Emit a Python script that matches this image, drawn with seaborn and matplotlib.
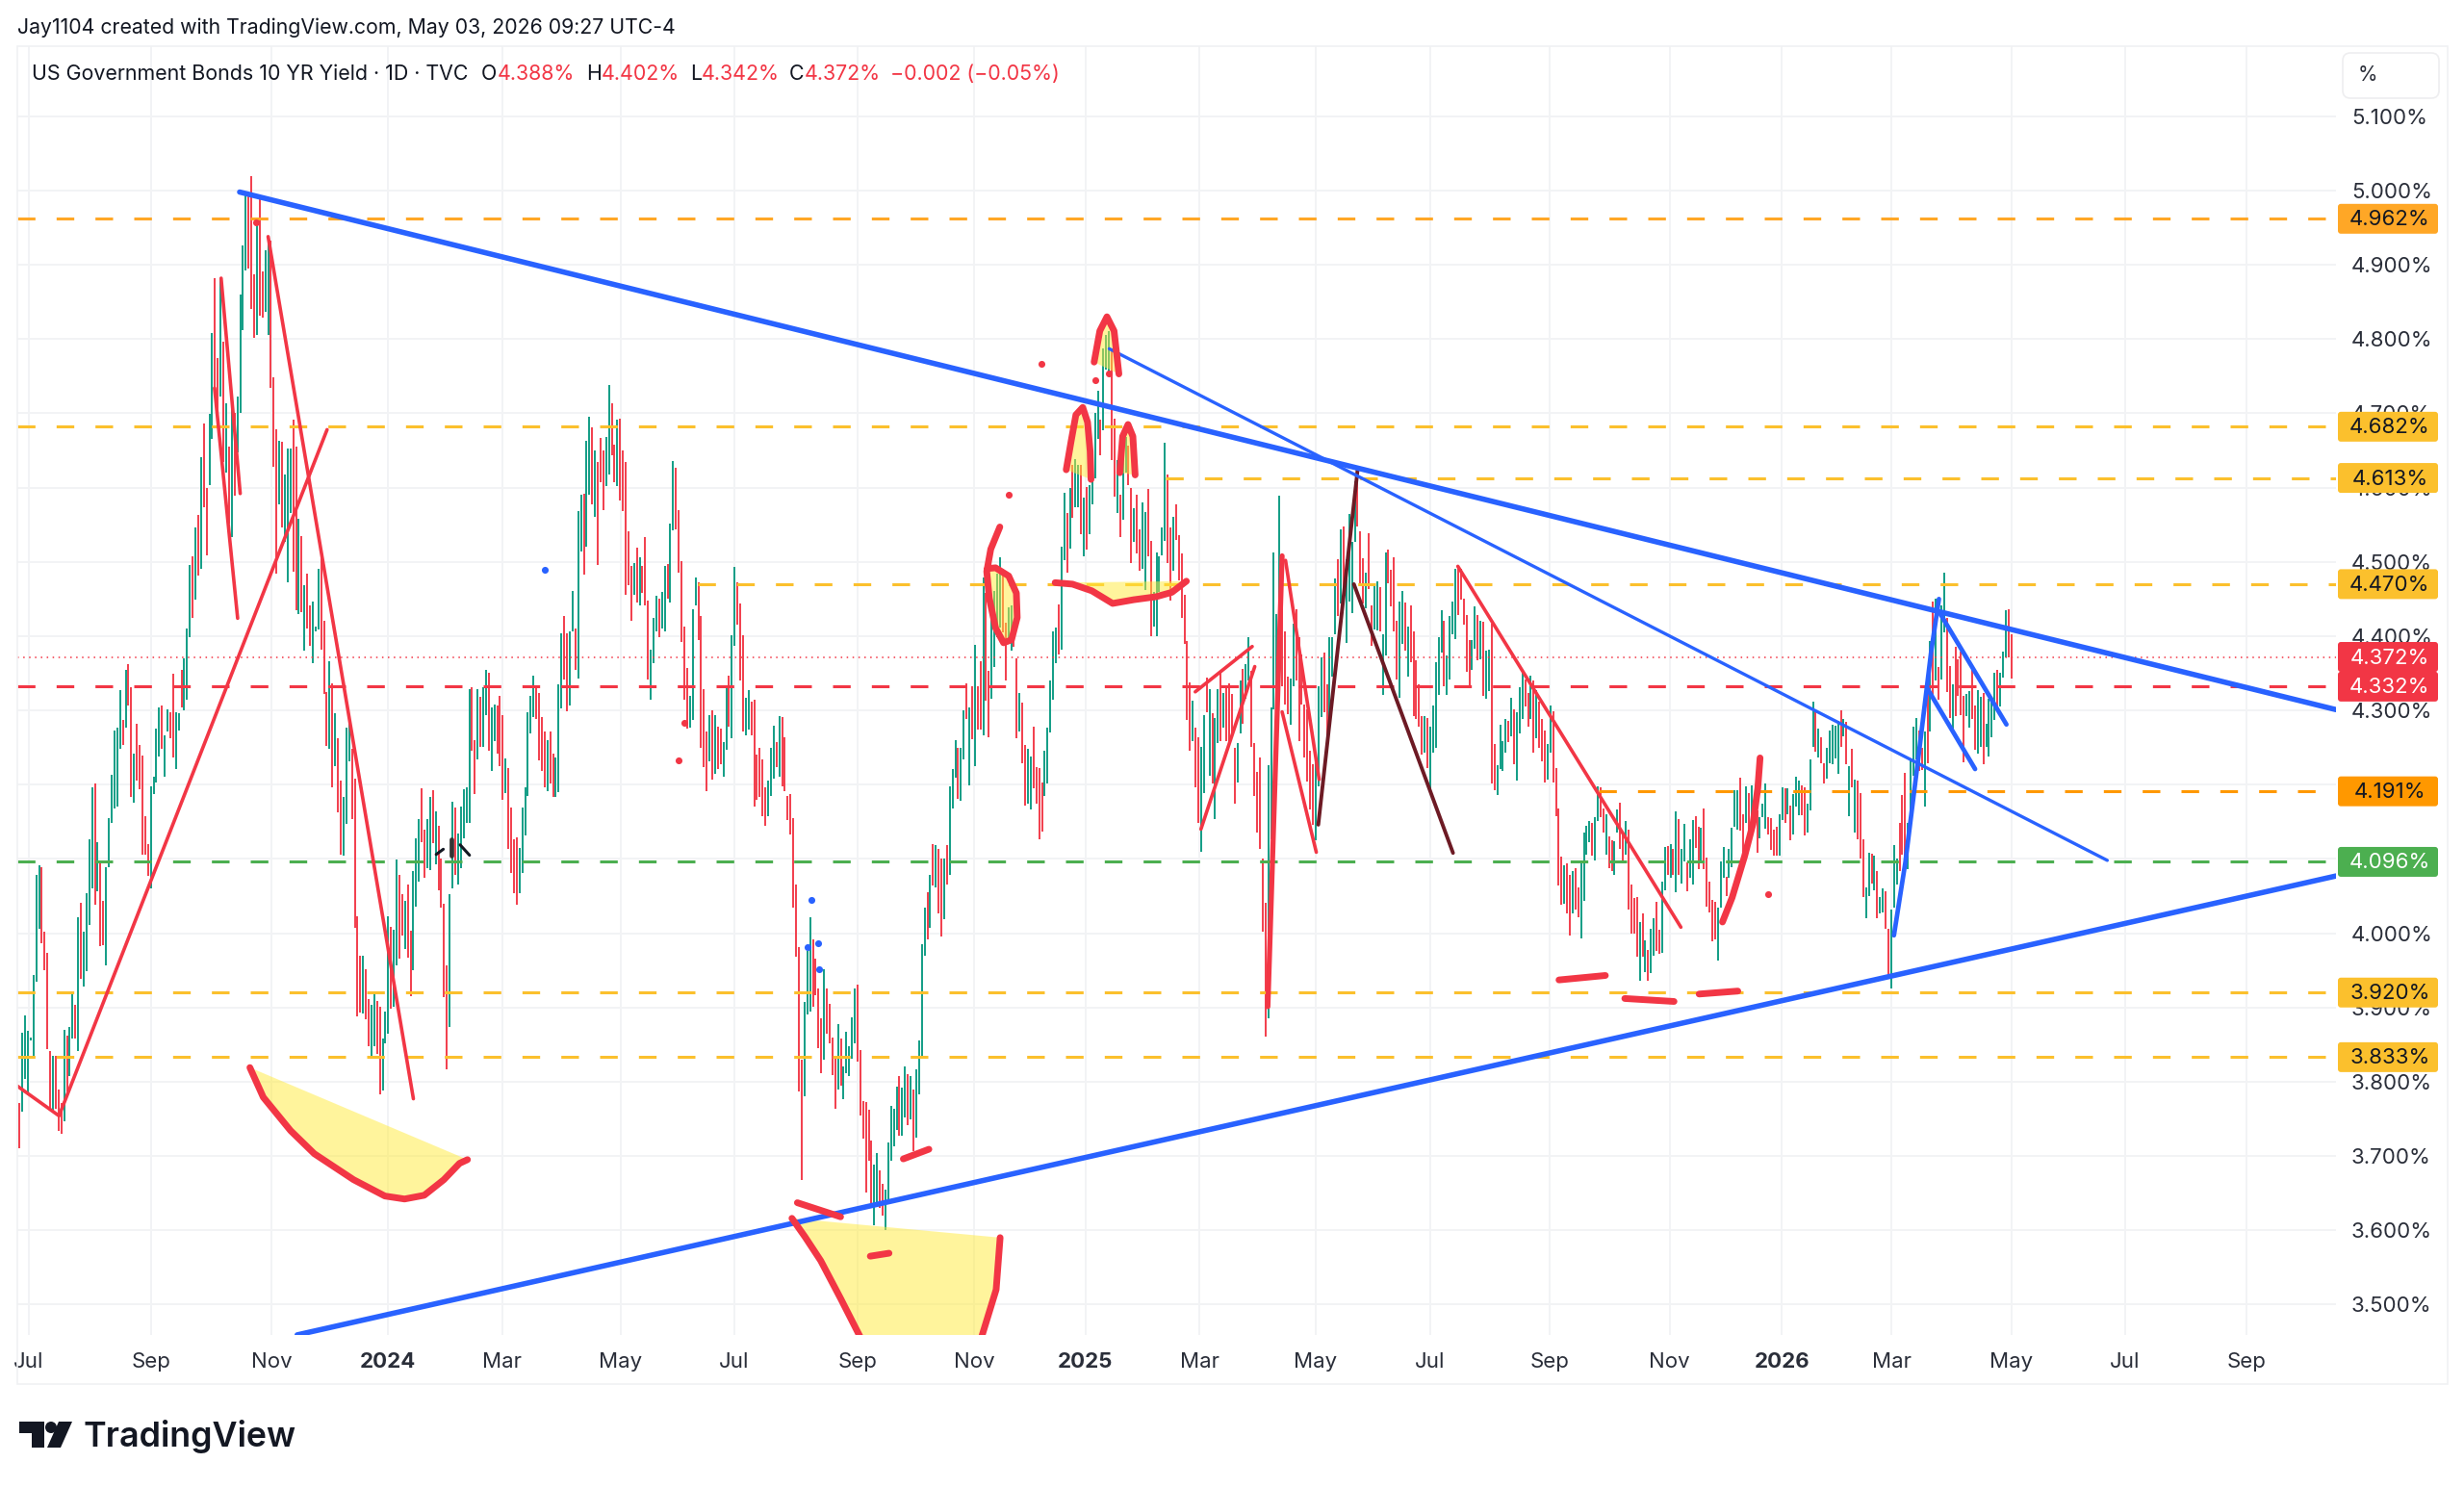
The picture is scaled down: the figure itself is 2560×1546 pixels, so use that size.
import numpy as np
import pandas as pd
import matplotlib
matplotlib.use("Agg")
import matplotlib.pyplot as plt
import seaborn as sns
from matplotlib.patches import FancyBboxPatch, Polygon, Circle, Rectangle
from matplotlib.transforms import IdentityTransform

# daily bar ranges (yield, %), left to right
high_a = [3.771,3.866,3.889,3.868,3.859,3.944,4.079,4.092,4.089,4.002,
          3.973,3.841,3.835,3.835,3.790,3.771,3.870,3.862,3.874,3.920,
          3.903,4.021,4.041,4.002,4.054,4.126,4.197,4.202,4.122,4.097,
          4.044,4.089,4.155,4.213,4.273,4.277,4.327,4.287,4.354,4.362,
          4.331,4.242,4.282,4.254,4.239,4.157,4.120,4.198,4.211,4.275,
          4.304,4.306,4.267,4.302,4.297,4.349,4.297,4.296,4.355,4.370,
          4.410,4.496,4.508,4.546,4.563,4.641,4.686,4.600,4.699,4.808,
          4.882,4.775,4.882,4.796,4.713,4.655,4.725,4.701,4.723,4.860,
          4.926,4.994,4.998,5.020,4.887,4.963,4.988,4.891,4.920,4.936,
          4.932,4.748,4.678,4.663,4.662,4.618,4.653,4.653,4.691,4.655,
          4.558,4.535,4.468,4.484,4.442,4.446,4.413,4.490,4.515,4.420,
          4.325,4.366,4.337,4.296,4.263,4.205,4.184,4.277,4.292,4.248]
low_a = [3.710,3.759,3.804,3.782,3.856,3.831,3.934,4.006,3.986,3.950,
         3.844,3.761,3.760,3.763,3.734,3.730,3.746,3.787,3.808,3.858,
         3.858,3.841,3.939,3.928,3.949,4.011,4.060,4.038,4.056,3.983,
         3.984,3.957,4.089,4.149,4.168,4.170,4.248,4.254,4.277,4.306,
         4.184,4.176,4.205,4.194,4.106,4.106,4.077,4.060,4.187,4.203,
         4.238,4.248,4.211,4.271,4.263,4.236,4.221,4.273,4.304,4.300,
         4.314,4.399,4.424,4.449,4.482,4.490,4.574,4.509,4.603,4.666,
         4.734,4.680,4.723,4.635,4.620,4.552,4.534,4.589,4.647,4.701,
         4.812,4.893,4.895,4.840,4.802,4.806,4.831,4.829,4.837,4.806,
         4.734,4.628,4.484,4.577,4.546,4.527,4.473,4.566,4.487,4.435,
         4.430,4.432,4.381,4.410,4.387,4.364,4.407,4.409,4.382,4.322,
         4.252,4.248,4.197,4.225,4.163,4.106,4.104,4.147,4.231,4.154]
dir_a = "rgggggggrr rrgrrrgrgg rgrggggrgr rggggggrgr rgrrrrrggg grggrrggrg ggrgrgrrgg rrgrgrgrgg ggrrrgrrgg rrrgrgggrr grgrrgggrr rgrgrrgggr"

high_b = [4.208,4.023,3.970,3.969,3.951,3.911,3.904,3.919,3.909,3.901,
          3.858,3.894,4.023,4.009,4.005,4.099,4.078,4.052,4.043,4.066,
          4.003,4.083,4.128,4.154,4.195,4.139,4.154,4.184,4.192,4.164,
          4.144,4.101,4.040,3.957,4.053,4.177,4.169,4.134,4.170,4.194,
          4.197,4.328,4.331,4.260,4.328,4.318,4.331,4.354,4.351,4.304,
          4.308,4.306,4.319,4.294,4.235,4.222,4.169,4.127,4.129,4.115,
          4.169,4.197,4.298,4.320,4.347,4.334,4.324,4.291,4.271,4.260,
          4.271,4.242,4.237,4.335,4.404,4.427,4.404,4.406,4.461,4.410,
          4.568,4.591,4.592,4.663,4.695,4.681,4.650,4.635,4.667,4.650,
          4.668,4.738,4.714,4.658,4.691,4.693,4.650,4.634,4.541,4.495,
          4.498,4.519,4.506,4.495,4.533,4.448,4.382,4.425,4.454,4.450,
          4.460,4.495,4.497,4.552,4.636,4.627,4.570,4.501,4.413,4.357,
          4.320]
low_b = [4.007,3.888,3.893,3.892,3.884,3.848,3.831,3.848,3.838,3.783,
         3.788,3.851,3.865,3.898,3.901,3.956,3.966,3.997,3.979,3.967,
         3.915,3.950,4.036,4.070,4.122,4.075,4.088,4.085,4.121,4.093,
         4.058,4.034,3.914,3.817,3.874,4.060,4.079,4.066,4.088,4.128,
         4.148,4.149,4.246,4.187,4.234,4.251,4.251,4.294,4.246,4.218,
         4.258,4.242,4.225,4.179,4.189,4.113,4.081,4.054,4.038,4.054,
         4.081,4.131,4.185,4.269,4.291,4.289,4.233,4.218,4.197,4.191,
         4.202,4.184,4.183,4.190,4.303,4.342,4.299,4.306,4.407,4.354,
         4.343,4.514,4.483,4.521,4.591,4.578,4.561,4.496,4.607,4.570,
         4.602,4.618,4.643,4.607,4.602,4.582,4.569,4.455,4.468,4.420,
         4.456,4.445,4.442,4.458,4.441,4.341,4.314,4.364,4.406,4.398,
         4.410,4.407,4.450,4.445,4.542,4.544,4.486,4.392,4.314,4.275,
         4.277]
dir_b = "rrrgrrggrr gggrggrrgr rgggrrggrg rrrrggrggg ggrrgrggrg grrrgrrrrg gggggrrrrg rrgggrrggr ggrggrgrrr ggrrgrrrrr grgrrrgggr ggrggrrrrr g"

high_c = [4.436,4.479,4.472,4.427,4.329,4.271,4.293,4.300,4.294,4.278,
          4.275,4.257,4.332,4.347,4.401,4.493,4.472,4.444,4.401,4.317,
          4.327,4.312,4.314,4.241,4.249,4.234,4.196,4.206,4.249,4.279,
          4.257,4.292,4.291,4.264,4.185,4.187,4.155,4.066,3.981,3.829,
          3.908,3.976,4.021,3.991,3.966,3.925,3.885,3.952,3.925,3.905,
          3.860,3.832,3.877,3.858,3.821,3.867,3.848,3.887,3.926,3.931,
          3.842,3.774,3.772,3.762,3.721,3.688,3.704,3.680,3.663,3.654,
          3.718,3.767,3.764,3.793,3.807,3.792,3.820,3.810,3.807,3.789,
          3.817,3.855,3.985,4.034,4.055,4.078,4.120,4.118,4.113,4.100,
          4.100,4.118,4.198,4.221,4.260,4.249,4.249,4.300,4.337,4.304,
          4.332,4.388,4.333,4.366,4.479,4.458,4.353,4.428,4.461,4.484,
          4.506,4.491,4.418,4.439,4.441,4.403,4.370,4.324,4.310,4.254]
low_c = [4.287,4.441,4.395,4.250,4.224,4.191,4.231,4.207,4.215,4.221,
         4.227,4.211,4.247,4.278,4.262,4.387,4.416,4.340,4.272,4.266,
         4.274,4.266,4.170,4.180,4.183,4.158,4.145,4.158,4.185,4.208,
         4.223,4.211,4.198,4.191,4.152,4.133,4.034,3.968,3.787,3.668,
         3.780,3.890,3.895,3.901,3.916,3.845,3.812,3.829,3.864,3.852,
         3.809,3.764,3.789,3.795,3.776,3.811,3.807,3.831,3.852,3.827,
         3.754,3.723,3.651,3.694,3.636,3.607,3.636,3.630,3.620,3.600,
         3.636,3.693,3.713,3.735,3.727,3.727,3.752,3.742,3.749,3.706,
         3.725,3.783,3.835,3.969,3.991,4.007,4.064,4.062,4.027,3.995,
         4.019,4.066,4.078,4.168,4.209,4.181,4.178,4.234,4.289,4.199,
         4.261,4.225,4.274,4.274,4.266,4.313,4.264,4.315,4.358,4.398,
         4.411,4.405,4.340,4.389,4.380,4.385,4.262,4.272,4.229,4.172]
dir_c = "ggrrrrgrgr rggrggrrrg grrrrrrggg rgrrrrrrrr gggrrrrgrr rrgrgggggr rrrrrggrrg ggggrggrgr ggggrgrgrr grgggrggrg rgrrgrrggg grrggrrgrr"

high_d = [4.248,4.238,4.278,4.224,4.222,4.203,4.246,4.277,4.340,4.406,
          4.411,4.443,4.520,4.593,4.566,4.600,4.630,4.638,4.630,4.630,
          4.587,4.601,4.604,4.643,4.700,4.730,4.691,4.788,4.806,4.811,
          4.788,4.693,4.637,4.591,4.666,4.668,4.656,4.600,4.572,4.591,
          4.544,4.580,4.567,4.598,4.528,4.459,4.512,4.508,4.546,4.660,
          4.618,4.546,4.560,4.577,4.536,4.511,4.456,4.393,4.338,4.313,
          4.277,4.264,4.251,4.293,4.344,4.329,4.296,4.290,4.329,4.351,
          4.324,4.330,4.337,4.322,4.249,4.256,4.340,4.356,4.362,4.399,
          4.353,4.256,4.217,4.236,4.100,4.041,4.226,4.304,4.513,4.430,
          4.589,4.511,4.406,4.346,4.343,4.417,4.436,4.398,4.375,4.308,
          4.301,4.246,4.227,4.240,4.333,4.372,4.378,4.335,4.399,4.398,
          4.478,4.504,4.544,4.548,4.503,4.564,4.527,4.609,4.627]
low_d = [4.175,4.166,4.195,4.175,4.127,4.137,4.185,4.201,4.270,4.314,
         4.364,4.375,4.382,4.502,4.486,4.518,4.559,4.574,4.574,4.537,
         4.508,4.517,4.537,4.577,4.612,4.666,4.643,4.677,4.759,4.753,
         4.637,4.588,4.566,4.533,4.557,4.620,4.604,4.499,4.527,4.511,
         4.488,4.491,4.462,4.508,4.400,4.413,4.400,4.459,4.509,4.528,
         4.498,4.448,4.488,4.530,4.475,4.424,4.389,4.287,4.245,4.259,
         4.197,4.149,4.109,4.188,4.298,4.212,4.201,4.153,4.256,4.259,
         4.277,4.259,4.259,4.266,4.175,4.203,4.269,4.282,4.315,4.340,
         4.251,4.185,4.135,4.113,4.002,3.861,3.885,4.127,4.301,4.327,
         4.369,4.333,4.308,4.295,4.280,4.333,4.340,4.259,4.308,4.237,
         4.204,4.166,4.146,4.125,4.198,4.291,4.298,4.266,4.269,4.346,
         4.402,4.427,4.444,4.456,4.391,4.447,4.431,4.527,4.547]
dir_d = "ggrrrrgggg grggrgrggr grggggrggg rrgrggrrgr rggrrggggg rrgrrrrrrg rrggrgrggr grrrrggrgg rrrrrrgggg grrrggrrrr rrrgggrrgg grgrggggr"

high_e = [4.541,4.505,4.486,4.538,4.441,4.469,4.474,4.466,4.402,4.513,
          4.517,4.489,4.506,4.420,4.447,4.461,4.445,4.413,4.441,4.406,
          4.368,4.335,4.292,4.292,4.290,4.278,4.307,4.365,4.398,4.435,
          4.420,4.374,4.427,4.446,4.491,4.494,4.491,4.450,4.428,4.395,
          4.395,4.440,4.428,4.420,4.419,4.381,4.382,4.417,4.255,4.226,
          4.280,4.258,4.289,4.286,4.317,4.301,4.297,4.331,4.352,4.342,
          4.323,4.347,4.340,4.327,4.312,4.289,4.273,4.255,4.306,4.299,
          4.222,4.168,4.103,4.092,4.094,4.079,4.083,4.087,4.062,4.094,
          4.136,4.144,4.151,4.149,4.156,4.198,4.196,4.168,4.160,4.130,
          4.125,4.124,4.167,4.176,4.134,4.151,4.139,4.066,4.047,4.049,
          4.015,4.026,3.990,3.977,4.006,4.020]
low_e = [4.471,4.444,4.438,4.464,4.387,4.409,4.408,4.406,4.321,4.374,
         4.471,4.440,4.407,4.342,4.317,4.390,4.381,4.345,4.365,4.292,
         4.288,4.278,4.240,4.243,4.222,4.193,4.243,4.250,4.321,4.378,
         4.332,4.321,4.341,4.402,4.396,4.429,4.449,4.416,4.352,4.332,
         4.354,4.383,4.368,4.369,4.320,4.316,4.326,4.202,4.193,4.186,
         4.221,4.219,4.243,4.257,4.265,4.227,4.205,4.269,4.289,4.305,
         4.278,4.289,4.243,4.263,4.250,4.232,4.203,4.207,4.243,4.203,
         4.157,4.064,4.038,4.039,4.027,3.997,4.027,4.032,4.022,3.993,
         4.043,4.106,4.122,4.104,4.098,4.151,4.156,4.136,4.106,4.088,
         4.083,4.079,4.135,4.114,4.098,4.106,4.032,3.999,3.999,3.968,
         3.936,3.968,3.948,3.936,3.946,3.970]
dir_e = "rrgrrggrgg rrrrggrgrr rrrgrggggg rggggrrrrr ggrgrggrrg gggrgrgggr rgrgrrrggr rrrgrrgrrg gggrggrrgr rggrrgrrrr grgrgg"

high_f = [4.042,4.004,4.069,4.116,4.117,4.120,4.113,4.164,4.154,4.113,
          4.147,4.095,4.126,4.152,4.158,4.143,4.142,4.168,4.102,4.069,
          4.045,4.042,4.035,4.096,4.116,4.076,4.113,4.142,4.193,4.193,
          4.209,4.160,4.198,4.188,4.199,4.182,4.165,4.156,4.175,4.202,
          4.156,4.155,4.139,4.143,4.160,4.197,4.195,4.195,4.172,4.187,
          4.211,4.206,4.199,4.196,4.175,4.234,4.312,4.300,4.276,4.264,
          4.229,4.250,4.273,4.280,4.279,4.286,4.300,4.288,4.284,4.225,
          4.248,4.207,4.205,4.189,4.126,4.062,4.108,4.107,4.104,4.083,
          4.048,4.060,4.056,4.006,4.032,4.118,4.100,4.148,4.186,4.216,
          4.149,4.234,4.278,4.290,4.273,4.250,4.272,4.327,4.393,4.446,
          4.450,4.359,4.442,4.486,4.424,4.360,4.335,4.385,4.369,4.379,
          4.320,4.322,4.326,4.361,4.306,4.327,4.318,4.323,4.282,4.316,
          4.312,4.350,4.354,4.351,4.379,4.435,4.436,4.403]
low_f = [3.976,3.972,3.974,4.058,4.078,4.074,4.078,4.055,4.078,4.067,
         4.097,4.057,4.074,4.065,4.115,4.086,4.095,4.086,4.036,4.028,
         3.989,3.991,3.963,4.035,4.074,4.050,4.074,4.089,4.143,4.139,
         4.138,4.106,4.149,4.139,4.147,4.143,4.108,4.128,4.156,4.141,
         4.133,4.112,4.105,4.105,4.105,4.152,4.149,4.160,4.125,4.133,
         4.171,4.159,4.159,4.131,4.136,4.165,4.251,4.244,4.237,4.229,
         4.201,4.208,4.229,4.227,4.235,4.214,4.251,4.265,4.227,4.157,
         4.197,4.136,4.126,4.100,4.048,4.020,4.050,4.067,4.058,4.020,
         4.026,4.028,4.006,3.944,3.926,4.035,4.065,4.084,4.106,4.093,
         4.086,4.139,4.212,4.234,4.219,4.220,4.170,4.229,4.271,4.320,
         4.340,4.314,4.342,4.405,4.325,4.290,4.275,4.292,4.320,4.294,
         4.230,4.292,4.277,4.288,4.247,4.242,4.251,4.227,4.251,4.238,
         4.264,4.287,4.301,4.305,4.344,4.372,4.372,4.343]
dir_f = "rrggrgrgrg grggrrgrrr rrgggrgggg rrgrggrggg rrrrggrgrg ggrrgggrgr rgggggrgrg rgrrrggrgr ggrrgggrrr ggggrrgrgr grggrrgrrr rggrrggrgg ggrgggrr"

# axis ticks, in sessions from the Jul 2023 tick
tick_sessions = [0, 43, 85.1, 126, 166.2, 207.8, 247.7, 291, 332, 371, 411, 451.7,
                 492, 534, 576, 615.5, 654, 696, 736, 778.6]
tick_labels = ["Jul", "Sep", "Nov", "2024", "Mar", "May", "Jul", "Sep", "Nov", "2025", "Mar", "May",
               "Jul", "Sep", "Nov", "2026", "Mar", "May", "Jul", "Sep"]
yield_ticks = [3.5, 3.6, 3.7, 3.8, 3.9, 4.0, 4.1, 4.2, 4.3, 4.4, 4.5, 4.6, 4.7, 4.8, 4.9, 5.0, 5.1]

# horizontal levels: value, first session, colour
level_values = [4.962, 4.682, 4.613, 4.470, 4.332, 4.191, 4.096, 3.920, 3.833]
level_starts = [-4, -4, 399, 235, -4, 551, -4, -4, -4]
level_colors = ["#FFA726", "#FBC02D", "#FBC02D", "#FBC02D", "#F23645", "#FF9800", "#4CAF50", "#FBC02D", "#FBC02D"]
last_price = 4.372

RED = "#F23645"
BLUE = "#2962FF"
DARK = "#6D1A24"
YELLOW = "#FFEB3B"

# hand drawn trend lines: (session, yield) pairs, width in points
thin_red = [
    [(-4, 3.794), (10.6, 3.754), (104.7, 4.678)],
    [(67.5, 4.882), (74.2, 4.592)],
    [(65.2, 4.734), (73.3, 4.424)],
    [(84, 4.938), (135, 3.777)],
    [(409.5, 4.325), (429.5, 4.386)],
    [(411.5, 4.140), (430.4, 4.359)],
    [(441.2, 4.502), (453, 4.207)],
    [(440, 4.298), (452, 4.109)],
    [(501.7, 4.494), (580, 4.008)],
]
spike_red = [(435, 3.901), (440, 4.508)]
dark_lines = [
    [(452.7, 4.146), (466.5, 4.624)],
    [(465.2, 4.470), (500, 4.108)],
]
thick_blue = [
    [(74, 4.998), (810, 4.301)],
    [(94.2, 3.459), (810, 4.077)],
]
thin_blue = [(379.3, 4.787), (729.7, 4.098)]
small_blue = [
    [(654.8, 3.997), (658.8, 4.095), (663.3, 4.234), (667.8, 4.377), (670.6, 4.450)],
    [(670.6, 4.433), (694.3, 4.281)],
    [(666.6, 4.329), (683.3, 4.221)],
]
red_strokes = [
    [(537.2, 3.937), (553.5, 3.943)],
    [(560.3, 3.912), (577.6, 3.908)],
    [(586.4, 3.918), (600, 3.922)],
    [(269.8, 3.637), (285, 3.618)],
    [(295.4, 3.565), (302, 3.569)],
    [(307, 3.696), (316, 3.709)],
    [(594.6, 4.015), (598, 4.048), (602.4, 4.104), (605.3, 4.147), (607, 4.195), (607.8, 4.236)],
]
cursor_marks = [
    [(143, 4.106), (145.5, 4.113)],
    [(151.4, 4.119), (154.7, 4.105)],
]
cursor_bar = [(148.5, 4.126), (148.5, 4.104)]

# filled scribbles, outline points
bowl_2024 = [(77.6, 3.819), (82.3, 3.779), (91.9, 3.734), (100.2, 3.703), (114, 3.668), (125, 3.646),
             (131.9, 3.642), (138.8, 3.647), (145.7, 3.668), (151.2, 3.690), (154, 3.695)]
bowl_sep = [(267.9, 3.616), (272.5, 3.591), (278, 3.559), (285, 3.508), (292.7, 3.450),
            (334, 3.450), (339.6, 3.520), (341, 3.590)]
loop_nov = [(340.9, 4.547), (337.7, 4.517), (336.3, 4.487), (337.2, 4.451), (339.4, 4.411), (342.2, 4.391),
            (345, 4.395), (347, 4.425), (346.7, 4.458), (344, 4.481), (339.4, 4.492), (336.6, 4.491)]
hump_a = [(364.2, 4.624), (365.9, 4.662), (367.6, 4.698), (370, 4.708), (371.7, 4.688), (372.6, 4.649), (372.9, 4.611)]
hump_b = [(383, 4.620), (384, 4.669), (385.9, 4.685), (387.6, 4.669), (388.4, 4.617)]
hump_c = [(374, 4.769), (376, 4.811), (378.5, 4.830), (381, 4.811), (382.7, 4.753)]
wave = [(360.3, 4.472), (366.4, 4.470), (373.2, 4.461), (380.5, 4.444), (387.9, 4.449), (395.7, 4.453),
        (401.3, 4.459), (406.4, 4.474)]

red_dots = [(79.7, 4.957), (228, 4.233), (230, 4.283), (343.9, 4.590), (355.6, 4.767), (374.3, 4.745),
            (379, 4.754), (610.7, 4.053)]
blue_dots = [(181, 4.489), (274.8, 4.045), (273.5, 3.981), (277, 3.986), (277.3, 3.951)]

W, H = 2560, 1546
AX_L, AX_R, AX_T, AX_B = 18, 2427, 48, 1387

sns.set_theme(style="white")
plt.rcParams["font.family"] = ["Inter", "DejaVu Sans"]

bars = pd.DataFrame({
    "high": high_a + high_b + high_c + high_d + high_e + high_f,
    "low": low_a + low_b + low_c + low_d + low_e + low_f,
    "dir": list((dir_a + dir_b + dir_c + dir_d + dir_e + dir_f).replace(" ", "")),
})
bars["session"] = np.linspace(-3.3, 696, len(bars))

fig = plt.figure(figsize=(W / 100, H / 100), dpi=100, facecolor="white")
ax = fig.add_axes([AX_L / W, 1 - AX_B / H, (AX_R - AX_L) / W, (AX_B - AX_T) / H])
ax.set_xlim(-4.05, 810)
ax.set_ylim(3.4589, 5.1944)
sns.despine(ax=ax, left=True, bottom=True, top=True, right=True)
ax.grid(True, color="#F2F3F5", lw=1.4, zorder=0)
ax.set_axisbelow(True)

bar_colors = bars["dir"].map({"g": "#089981", "r": "#F23645"})
ax.vlines(bars["session"], bars["low"], bars["high"], colors=bar_colors, lw=1.35, zorder=2)

for val, start, col in zip(level_values, level_starts, level_colors):
    ax.plot([start, 810], [val, val], color=col, lw=2.2, ls=(0, (6, 7.2)), zorder=3)
ax.plot([-4.05, 810], [last_price, last_price], color=RED, lw=1.1, ls=(0, (1, 3)), zorder=3)


def draw(points, color, width):
    xs, ys = zip(*points)
    sns.lineplot(x=list(xs), y=list(ys), sort=False, estimator=None, errorbar=None, color=color,
                 lw=width, solid_capstyle="round", ax=ax, zorder=5, legend=False)


for shape in [bowl_2024, bowl_sep, loop_nov[2:], hump_a, hump_b, hump_c, wave]:
    xs, ys = zip(*shape)
    ax.fill(xs, ys, color=YELLOW, alpha=0.5, lw=0, zorder=4)

for line in thin_red:
    draw(line, RED, 2.6)
draw(spike_red, RED, 3.8)
for line in dark_lines:
    draw(line, DARK, 2.8)
for line in thick_blue:
    draw(line, BLUE, 4.0)
draw(thin_blue, BLUE, 2.4)
for line in small_blue:
    draw(line, BLUE, 3.4)
for line in red_strokes:
    draw(line, RED, 5.0)
for shape in [bowl_2024, bowl_sep[:5], bowl_sep[5:], loop_nov, hump_a, hump_b, hump_c, wave]:
    draw(shape, RED, 5.0)
for line in cursor_marks:
    draw(line, "#131722", 2.2)
draw(cursor_bar, "#333333", 3.4)

for dots, col in [(red_dots, RED), (blue_dots, BLUE)]:
    xs, ys = zip(*dots)
    sns.scatterplot(x=list(xs), y=list(ys), color=col, s=26, linewidth=0, ax=ax, zorder=5, legend=False)

TICK_COLOR = "#2A2E39"
ax.yaxis.tick_right()
ax.set_yticks(yield_ticks)
ax.set_yticklabels([f"{v:.3f}%" for v in yield_ticks], color=TICK_COLOR, fontsize=16)
ax.set_xticks(tick_sessions)
ax.set_xticklabels(tick_labels, color=TICK_COLOR, fontsize=16)
ax.tick_params(axis="both", length=0)
ax.tick_params(axis="y", pad=11.5)
ax.tick_params(axis="x", pad=13)
for lab in ax.get_xticklabels():
    if lab.get_text().isdigit():
        lab.set_fontweight("bold")


def to_fig(px, py):
    return px / W, 1 - py / H


# outer frame and scale button
fig.add_artist(Rectangle((18, H - 1438), 2525, 1390, fill=False, ec="#F0F1F3", lw=1.2,
                         transform=IdentityTransform(), zorder=1))
fig.add_artist(FancyBboxPatch((2434, H - 102), 100, 47, boxstyle="round,pad=0,rounding_size=8", fc="white",
                              ec="#EEEEF0", lw=1.2, transform=IdentityTransform(), zorder=1))
fig.text(*to_fig(2460, 78), "%", ha="center", va="center", color=TICK_COLOR, fontsize=15, zorder=3)

# price labels at the right
label_text = {"#F23645": "white", "#4CAF50": "white"}
label_order = [0, 1, 2, 3, 5, 6, 7, 8, 4]
labels = [(level_values[i], level_colors[i]) for i in label_order]
labels.insert(-1, (last_price, RED))
for val, col in labels:
    py = ax.transData.transform((0, val))[1]
    fig.add_artist(FancyBboxPatch((2429, py - 15.5), 104, 31, boxstyle="round,pad=0,rounding_size=3", fc=col,
                                  ec="none", transform=IdentityTransform(), zorder=2))
    fig.text(2483 / W, (py - 1) / H, f"{val:.3f}%", ha="center", va="center", fontsize=16,
             color=label_text.get(col, "#131722"), zorder=3)

# header
fig.text(*to_fig(18, 29), "Jay1104 created with TradingView.com, May 03, 2026 09:27 UTC-4",
         va="center", color="#131722", fontsize=15.3)
fig.text(*to_fig(33, 77), "US Government Bonds 10 YR Yield · 1D · TVC", va="center", color="#131722", fontsize=15.4)
legend_parts = [(500, "O", "#131722"), (517, "4.388%", RED), (609, "H", "#131722"), (625, "4.402%", RED),
                (717, "L", "#131722"), (729, "4.342%", RED), (820, "C", "#131722"), (836, "4.372%", RED),
                (925, "−0.002 (−0.05%)", RED)]
for px, txt, col in legend_parts:
    fig.text(*to_fig(px, 77), txt, va="center", color=col, fontsize=15.4)

# logo
logo = dict(fc="#131722", ec="none", transform=IdentityTransform(), zorder=2)
fig.add_artist(Polygon([(20, H - 1477), (46, H - 1477), (46, H - 1504), (33, H - 1504), (33, H - 1489),
                        (20, H - 1489)], **logo))
fig.add_artist(Circle((53, H - 1483), 6, **logo))
fig.add_artist(Polygon([(61, H - 1477), (75, H - 1477), (63, H - 1504), (49, H - 1504)], **logo))
fig.text(*to_fig(87, 1492), "TradingView", va="center", color="#131722", fontsize=25.8, fontweight="semibold")

plt.savefig("out.png", dpi=100, facecolor="white")
